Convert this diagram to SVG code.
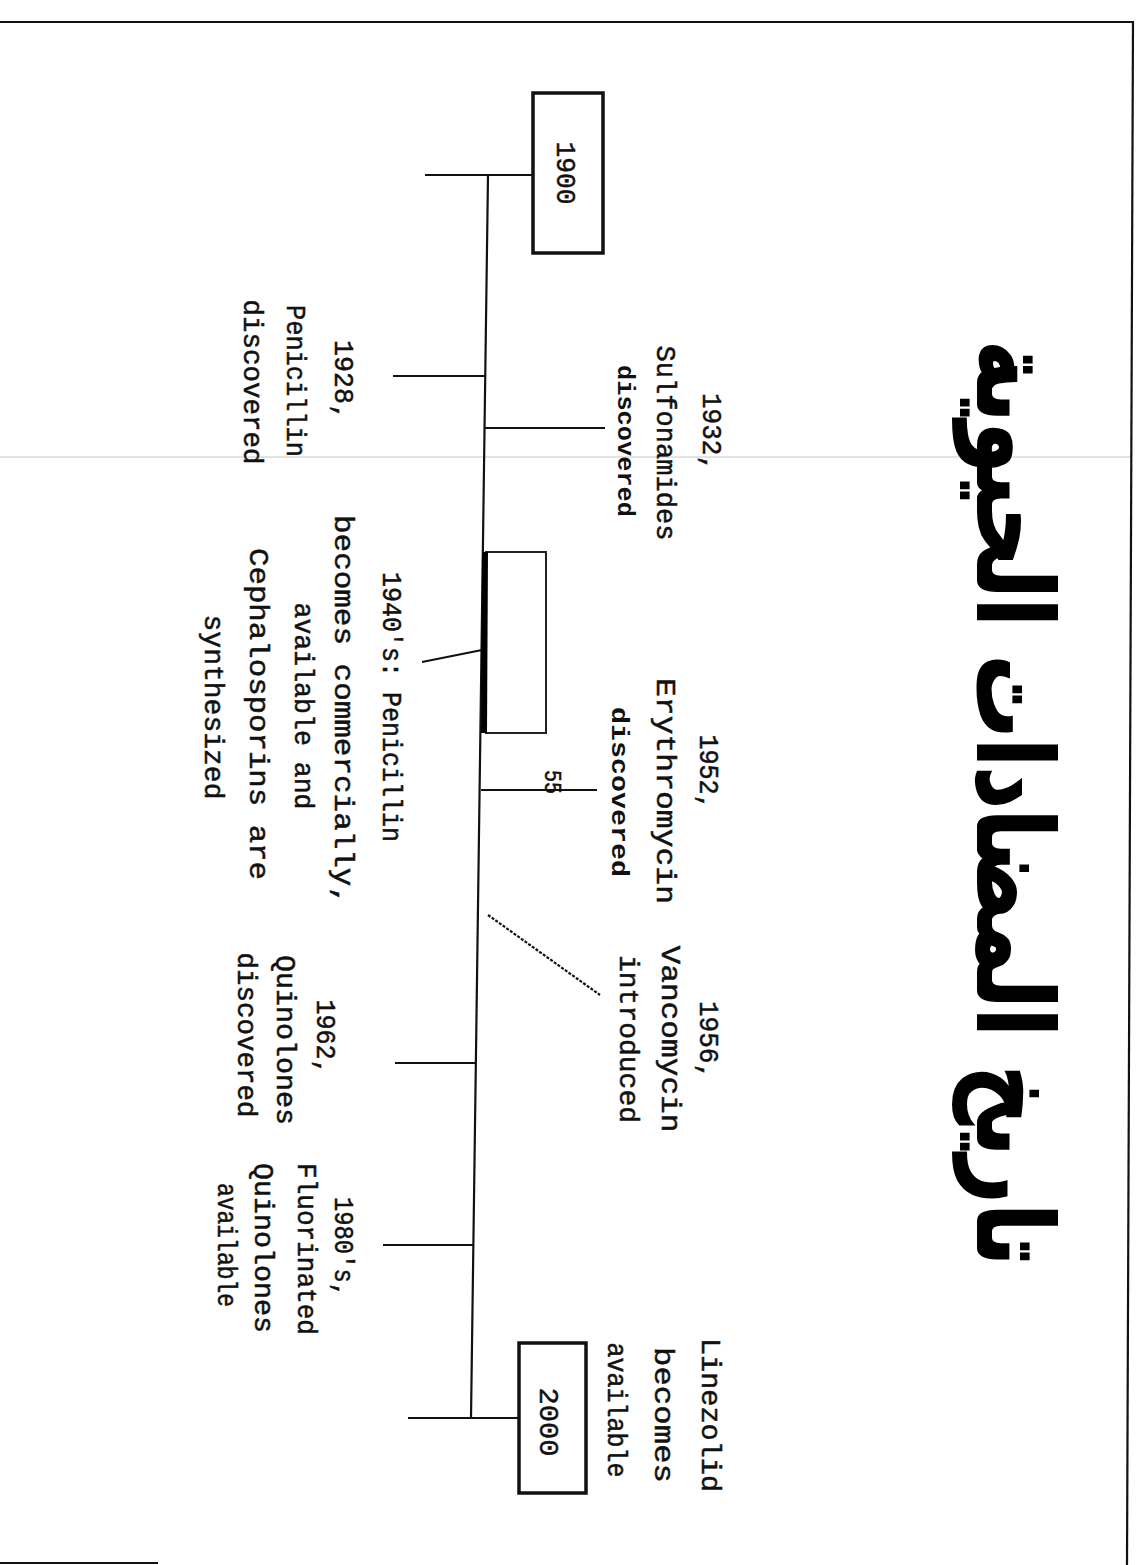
<svg xmlns="http://www.w3.org/2000/svg" width="1139" height="1565" viewBox="0 0 1139 1565">
<style>
.t{font-family:"Liberation Mono","DejaVu Sans Mono",monospace;font-size:28px;fill:#111;stroke:#111;stroke-width:0.5;text-anchor:middle}
.s{font-family:"Liberation Mono","DejaVu Sans Mono",monospace;font-size:23px;font-weight:bold;fill:#111;text-anchor:middle}
.ln{stroke:#111;stroke-width:2.2;fill:none}
.box{stroke:#111;stroke-width:3.5;fill:#fff}
.title{font-family:"DejaVu Sans","Noto Sans",sans-serif;font-size:104px;font-weight:bold;fill:#000;stroke:#000;stroke-width:2;text-anchor:middle}
</style>
<rect x="0" y="0" width="1139" height="1565" fill="#fff"/>
<g id="frame">
<line x1="0" y1="22" x2="1133" y2="22" class="ln" stroke-width="2.5"/>
<line x1="1133" y1="21" x2="1127" y2="1565" class="ln" stroke-width="3"/>
<line x1="0" y1="1563" x2="158" y2="1563" class="ln" stroke="#333"/>
<line x1="0" y1="457" x2="1130" y2="457" stroke="#c8c8c8" stroke-width="1"/>
</g>
<g id="title">
<text class="title" transform="translate(978,803) rotate(90)" textLength="925" lengthAdjust="spacingAndGlyphs">تاريخ المضادات الحيوية</text>
</g>
<g id="connectors">
<line x1="488" y1="175" x2="471" y2="1418" class="ln"/>
<line x1="425" y1="175" x2="533" y2="175" class="ln"/>
<line x1="393" y1="376" x2="485" y2="376" class="ln"/>
<line x1="485" y1="428" x2="605" y2="428" class="ln"/>
<line x1="422" y1="662" x2="482" y2="650" class="ln"/>
<line x1="481" y1="790" x2="597" y2="790" class="ln"/>
<line x1="488" y1="915" x2="600" y2="995" class="ln" stroke-width="1.6" stroke-dasharray="3,1.5"/>
<line x1="395" y1="1063" x2="476" y2="1063" class="ln"/>
<line x1="383" y1="1245" x2="473" y2="1245" class="ln"/>
<line x1="408" y1="1418" x2="519" y2="1418" class="ln"/>
</g>
<g id="n1900">
<rect x="533" y="93" width="70" height="160" class="box"/>
<text class="t" transform="translate(557,173) rotate(90)" textLength="63" lengthAdjust="spacingAndGlyphs">1900</text>
</g>
<g id="n1928">
<text class="t" transform="translate(335,380) rotate(90)" textLength="80" lengthAdjust="spacingAndGlyphs">1928,</text>
<text class="t" transform="translate(287,381) rotate(90)" textLength="152" lengthAdjust="spacingAndGlyphs">Penicillin</text>
<text class="t" transform="translate(244,382) rotate(90)" textLength="165" lengthAdjust="spacingAndGlyphs">discovered</text>
</g>
<g id="n1932">
<text class="t" transform="translate(703,432) rotate(90)" textLength="78" lengthAdjust="spacingAndGlyphs">1932,</text>
<text class="t" transform="translate(657,443) rotate(90)" textLength="195" lengthAdjust="spacingAndGlyphs">Sulfonamides</text>
<text class="s" transform="translate(618,441) rotate(90)" textLength="152" lengthAdjust="spacingAndGlyphs">discovered</text>
</g>
<g id="n1940s">
<path d="M485 552 H546 V733 H485" fill="none" stroke="#222" stroke-width="2"/>
<line x1="485" y1="552" x2="484" y2="733" stroke="#000" stroke-width="6"/>
<text class="t" transform="translate(383,707) rotate(90)" textLength="270" lengthAdjust="spacingAndGlyphs">1940's: Penicillin</text>
<text class="t" transform="translate(335,710) rotate(90)" textLength="390" lengthAdjust="spacingAndGlyphs">becomes commercially,</text>
<text class="t" transform="translate(295,706) rotate(90)" textLength="207" lengthAdjust="spacingAndGlyphs">available and</text>
<text class="t" transform="translate(250,714) rotate(90)" textLength="332" lengthAdjust="spacingAndGlyphs">Cephalosporins are</text>
<text class="t" transform="translate(205,707) rotate(90)" textLength="185" lengthAdjust="spacingAndGlyphs">synthesized</text>
</g>
<g id="n1952">
<text class="t" transform="translate(700,772) rotate(90)" textLength="75" lengthAdjust="spacingAndGlyphs">1952,</text>
<text class="t" transform="translate(657,791) rotate(90)" textLength="226" lengthAdjust="spacingAndGlyphs">Erythromycin</text>
<text class="s" transform="translate(612,792) rotate(90)" textLength="170" lengthAdjust="spacingAndGlyphs">discovered</text>
</g>
<g id="n1956">
<text class="t" transform="translate(700,1040) rotate(90)" textLength="78" lengthAdjust="spacingAndGlyphs">1956,</text>
<text class="t" transform="translate(662,1039) rotate(90)" textLength="187" lengthAdjust="spacingAndGlyphs">Vancomycin</text>
<text class="t" transform="translate(620,1039) rotate(90)" textLength="168" lengthAdjust="spacingAndGlyphs">introduced</text>
</g>
<g id="n1962">
<text class="t" transform="translate(317,1037) rotate(90)" textLength="75" lengthAdjust="spacingAndGlyphs">1962,</text>
<text class="t" transform="translate(277,1040) rotate(90)" textLength="170" lengthAdjust="spacingAndGlyphs">Quinolones</text>
<text class="t" transform="translate(238,1035) rotate(90)" textLength="165" lengthAdjust="spacingAndGlyphs">discovered</text>
</g>
<g id="n1980s">
<text class="t" transform="translate(335,1247) rotate(90)" textLength="100" lengthAdjust="spacingAndGlyphs">1980's,</text>
<text class="t" transform="translate(298,1249) rotate(90)" textLength="172" lengthAdjust="spacingAndGlyphs">Fluorinated</text>
<text class="t" transform="translate(255,1248) rotate(90)" textLength="170" lengthAdjust="spacingAndGlyphs">Quinolones</text>
<text class="t" transform="translate(218,1245) rotate(90)" textLength="124" lengthAdjust="spacingAndGlyphs">available</text>
</g>
<g id="n2000">
<rect x="519" y="1343" width="67" height="150" class="box"/>
<text class="t" transform="translate(540,1422) rotate(90)" textLength="69" lengthAdjust="spacingAndGlyphs">2000</text>
</g>
<g id="nLinezolid">
<text class="t" transform="translate(702,1415) rotate(90)" textLength="154" lengthAdjust="spacingAndGlyphs">Linezolid</text>
<text class="t" transform="translate(655,1415) rotate(90)" textLength="136" lengthAdjust="spacingAndGlyphs">becomes</text>
<text class="t" transform="translate(608,1410) rotate(90)" textLength="135" lengthAdjust="spacingAndGlyphs">available</text>
</g>
<g id="pagenum">
<text class="t" style="font-size:24px" transform="translate(545,782) rotate(90)" textLength="24" lengthAdjust="spacingAndGlyphs">55</text>
</g>
</svg>
